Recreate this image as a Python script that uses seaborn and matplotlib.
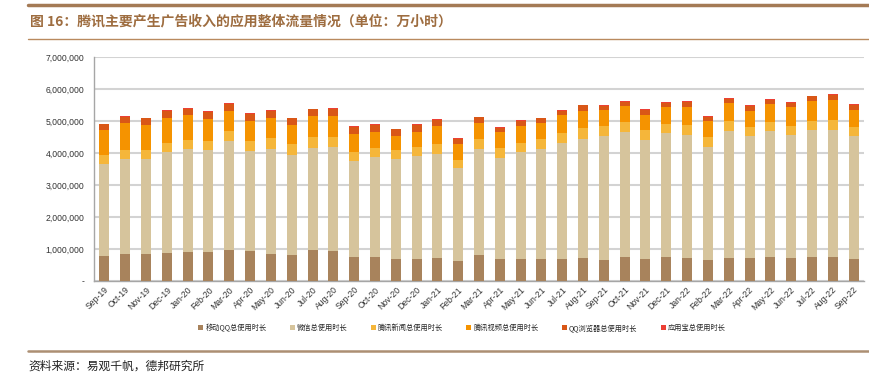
import numpy as np
import pandas as pd
import matplotlib
matplotlib.use("Agg")
import matplotlib.pyplot as plt
import matplotlib.ticker as mticker
from matplotlib.lines import Line2D
from matplotlib.patches import Patch
import seaborn as sns

months = ["Sep-19", "Oct-19", "Nov-19", "Dec-19", "Jan-20", "Feb-20", "Mar-20", "Apr-20",
          "May-20", "Jun-20", "Jul-20", "Aug-20", "Sep-20", "Oct-20", "Nov-20", "Dec-20",
          "Jan-21", "Feb-21", "Mar-21", "Apr-21", "May-21", "Jun-21", "Jul-21", "Aug-21",
          "Sep-21", "Oct-21", "Nov-21", "Dec-21", "Jan-22", "Feb-22", "Mar-22", "Apr-22",
          "May-22", "Jun-22", "Jul-22", "Aug-22", "Sep-22"]

# segment values, in millions
mobile_qq = [0.77, 0.84, 0.84, 0.88, 0.92, 0.92, 0.97, 0.94, 0.84, 0.81, 0.96, 0.93, 0.75,
             0.75, 0.70, 0.69, 0.73, 0.61, 0.80, 0.69, 0.69, 0.69, 0.69, 0.72, 0.67, 0.75,
             0.70, 0.75, 0.73, 0.67, 0.73, 0.73, 0.74, 0.72, 0.74, 0.76, 0.69]
wechat = [2.90, 2.98, 2.98, 3.14, 3.22, 3.18, 3.39, 3.11, 3.30, 3.13, 3.20, 3.25, 3.00,
          3.14, 3.10, 3.22, 3.25, 2.91, 3.34, 3.16, 3.33, 3.435, 3.61, 3.73, 3.86, 3.90,
          3.71, 3.86, 3.83, 3.53, 3.95, 3.79, 3.94, 3.84, 3.98, 3.97, 3.84]
tencent_news = [0.26, 0.26, 0.26, 0.28, 0.28, 0.29, 0.33, 0.31, 0.32, 0.33, 0.33, 0.32, 0.27,
                0.27, 0.28, 0.28, 0.30, 0.25, 0.29, 0.30, 0.30, 0.305, 0.31, 0.32, 0.30, 0.31,
                0.30, 0.31, 0.315, 0.29, 0.31, 0.29, 0.30, 0.29, 0.28, 0.30, 0.29]
tencent_video = [0.78, 0.86, 0.81, 0.80, 0.76, 0.66, 0.62, 0.63, 0.63, 0.61, 0.66, 0.67, 0.58,
                 0.50, 0.45, 0.47, 0.55, 0.50, 0.51, 0.50, 0.51, 0.51, 0.57, 0.54, 0.50, 0.51,
                 0.49, 0.52, 0.565, 0.51, 0.56, 0.51, 0.54, 0.58, 0.625, 0.64, 0.53]
qq_browser = [0.19, 0.20, 0.19, 0.21, 0.21, 0.23, 0.23, 0.23, 0.23, 0.20, 0.21, 0.205, 0.21,
              0.23, 0.21, 0.23, 0.21, 0.18, 0.17, 0.14, 0.17, 0.14, 0.14, 0.18, 0.14, 0.13,
              0.14, 0.13, 0.14, 0.135, 0.15, 0.16, 0.15, 0.14, 0.145, 0.14, 0.16]
yingyongbao = [0.02, 0.02, 0.02, 0.03, 0.02, 0.02, 0.02, 0.02, 0.02, 0.02, 0.03, 0.025, 0.02,
               0.02, 0.02, 0.02, 0.02, 0.02, 0.03, 0.02, 0.02, 0.02, 0.02, 0.02, 0.02, 0.025,
               0.02, 0.02, 0.03, 0.035, 0.02, 0.02, 0.02, 0.02, 0.02, 0.03, 0.02]

series_names = ["移动QQ总使用时长", "微信总使用时长", "腾讯新闻总使用时长",
                "腾讯视频总使用时长", "QQ浏览器总使用时长", "应用宝总使用时长"]
colors = ["#A8835C", "#D6C49C", "#F5B63A", "#F59300", "#D95717", "#EC4035"]

sns.set_theme(style="white")
plt.rcParams["font.family"] = ["Liberation Sans", "Noto Sans CJK SC", "DejaVu Sans"]

segs = np.array([mobile_qq, wechat, tencent_news, tencent_video, qq_browser, yingyongbao]) * 1e6
cum = np.cumsum(segs, axis=0)

fig = plt.figure(figsize=(8.7, 3.76), dpi=100)
ax = fig.add_axes([94 / 870, 1 - 281 / 376, 770 / 870, 224 / 376])

# draw cumulative totals from top layer down so each shows as a stacked segment
for i in range(len(series_names) - 1, -1, -1):
    df = pd.DataFrame({"month": months, "value": cum[i]})
    sns.barplot(data=df, x="month", y="value", color=colors[i], width=0.48,
                saturation=1, ax=ax, zorder=3, edgecolor="none")

ax.set_ylim(0, 7e6)
ax.set_xlim(-0.5, len(months) - 0.5)
ax.yaxis.set_major_locator(mticker.MultipleLocator(1e6))
ax.yaxis.set_major_formatter(mticker.FuncFormatter(lambda v, p: "-" if v == 0 else f"{v:,.0f}"))
ax.grid(axis="y", color="#D3D3D3", linewidth=1.5, zorder=0)
ax.set_axisbelow(True)
ax.set_xlabel("")
ax.set_ylabel("")
for s in ["top", "right"]:
    ax.spines[s].set_visible(False)
for s in ["left", "bottom"]:
    ax.spines[s].set_color("#A6A6A6")
    ax.spines[s].set_linewidth(1.0)

ax.tick_params(axis="y", length=0, labelsize=6.2, colors="#333333", pad=7)
ax.set_xticks(range(len(months)))
ax.set_xticklabels(months, rotation=45, ha="right", rotation_mode="anchor",
                   fontsize=6.2, color="#333333")
ax.tick_params(axis="x", length=0, pad=3)
ax.set_xticks(np.arange(-0.5, len(months), 1), minor=True)
ax.tick_params(axis="x", which="minor", length=3, color="#A6A6A6", width=0.8)

handles = [Patch(facecolor=c, edgecolor="none") for c in colors]
fig.legend(handles, series_names, loc="center", bbox_to_anchor=(462 / 870, 1 - 328 / 376),
           ncol=6, frameon=False, handlelength=0.7, handleheight=0.7,
           handletextpad=0.3, columnspacing=3.2, prop={"family": ["Noto Sans CJK SC"], "size": 5.2})

# header and footer rules
fig.add_artist(Line2D([28 / 870, 1], [1 - 4.5 / 376] * 2, color="#A47A55", linewidth=2.5))
fig.add_artist(Line2D([28 / 870, 1], [1 - 38.5 / 376] * 2, color="#B98A5E", linewidth=1.0))
fig.add_artist(Line2D([28 / 870, 1], [1 - 351 / 376] * 2, color="#AC8F73", linewidth=1.8))

fig.text(30 / 870, 1 - 21 / 376, "图 16：腾讯主要产生广告收入的应用整体流量情况（单位：万小时）",
         fontsize=10, fontweight="bold", color="#9E6D40", va="center", ha="left",
         family=["Noto Sans CJK SC", "DejaVu Sans"])
fig.text(28 / 870, 1 - 366 / 376, "资料来源：易观千帆，德邦研究所",
         fontsize=8.5, color="#222222", va="center", ha="left",
         family=["Noto Sans CJK SC", "DejaVu Sans"])

fig.savefig("out.png", dpi=100)
